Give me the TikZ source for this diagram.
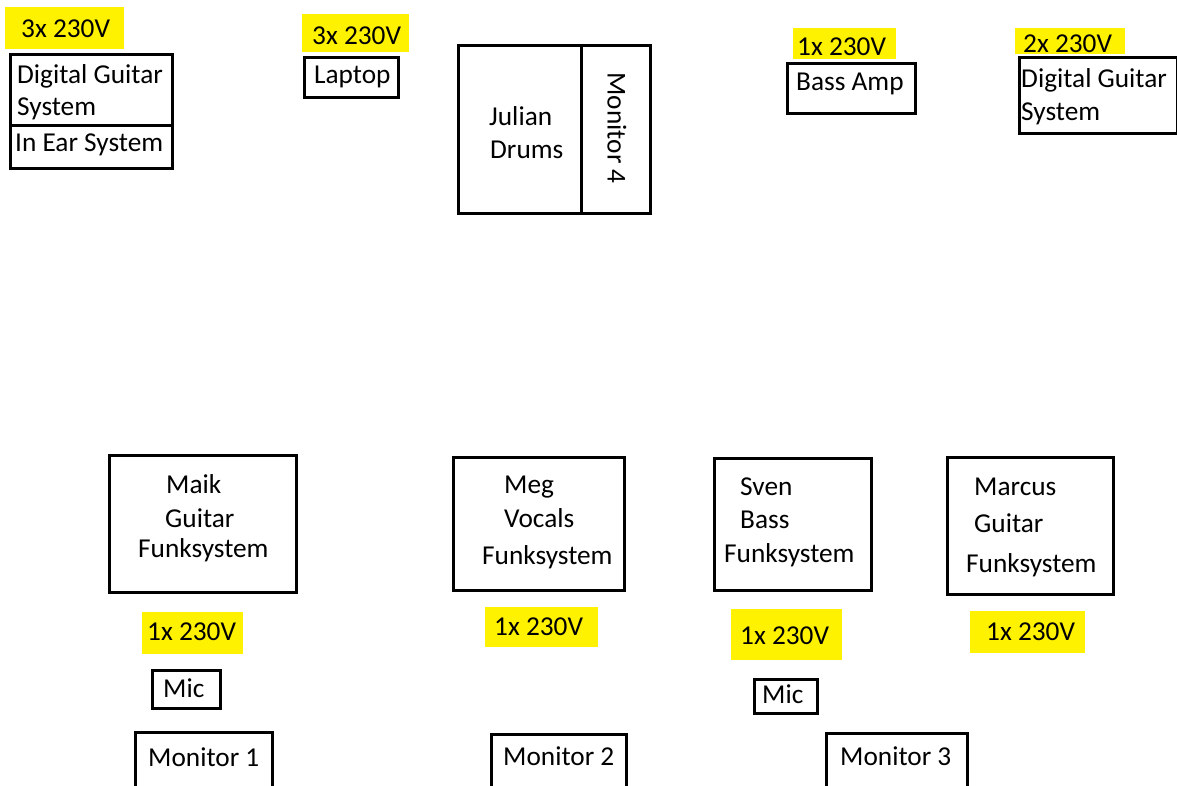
\documentclass[tikz,border=0pt]{standalone}
\usepackage{fontspec}
\setmainfont{Carlito}
\definecolor{hl}{RGB}{255,242,0}
\begin{document}
\begin{tikzpicture}[x=1pt,y=-1pt,
  box/.style={draw=black,line width=2.6pt,inner sep=0pt,anchor=north west},
  hlbox/.style={fill=hl,draw=none,inner sep=0pt,anchor=north west},
  txt/.style={inner sep=0pt,anchor=base west,font=\fontsize{27.3}{32}\selectfont}]
\useasboundingbox[fill=white] (0,0) rectangle (1177,785);
% yellow highlights
\node[hlbox,minimum width=119pt,minimum height=42pt] (h1) at (5,7) {};
\node[hlbox,minimum width=107pt,minimum height=38pt] (h2) at (302,14) {};
\node[hlbox,minimum width=103pt,minimum height=31pt] (h3) at (793,28) {};
\node[hlbox,minimum width=110pt,minimum height=26pt] (h4) at (1015,28) {};
\node[hlbox,minimum width=101pt,minimum height=42pt] (h5) at (142,612) {};
\node[hlbox,minimum width=113pt,minimum height=40pt] (h6) at (485,607) {};
\node[hlbox,minimum width=111pt,minimum height=51pt] (h7) at (731,609) {};
\node[hlbox,minimum width=115pt,minimum height=42pt] (h8) at (970,611) {};
% boxes
\node[box,minimum width=162pt,minimum height=71pt] (dgs1) at (9,53) {};
\node[box,minimum width=162pt,minimum height=43pt] (ies) at (9,124) {};
\node[box,minimum width=94pt,minimum height=40pt] (laptop) at (303,56) {};
\node[box,minimum width=123pt,minimum height=168pt] (drums) at (457,44) {};
\node[box,minimum width=69pt,minimum height=168pt] (mon4) at (580,44) {};
\node[box,minimum width=128pt,minimum height=50pt] (bassamp) at (786,62) {};
\node[box,minimum width=158pt,minimum height=76pt] (dgs2) at (1018,56) {};
\node[box,minimum width=187pt,minimum height=137pt] (maik) at (108,454) {};
\node[box,minimum width=68pt,minimum height=38pt] (mic1) at (151,669) {};
\node[box,minimum width=137pt,minimum height=70pt] (mon1) at (134,731) {};
\node[box,minimum width=171pt,minimum height=133pt] (meg) at (452,456) {};
\node[box,minimum width=135pt,minimum height=68pt] (mon2) at (490,733) {};
\node[box,minimum width=157pt,minimum height=132pt] (sven) at (713,457) {};
\node[box,minimum width=63pt,minimum height=34pt] (mic2) at (753,678) {};
\node[box,minimum width=141pt,minimum height=69pt] (mon3) at (825,732) {};
\node[box,minimum width=166pt,minimum height=137pt] (marcus) at (946,456) {};
% texts top
\node[txt] (t1) at (21,37) {3x 230V};
\node[txt] (t2) at (17,83) {Digital Guitar};
\node[txt] (t3) at (17,115) {System};
\node[txt] (t4) at (15,151) {In Ear System};
\node[txt] (t5) at (312,44) {3x 230V};
\node[txt] (t6) at (314,83) {Laptop};
\node[txt] (t7) at (489,125) {Julian};
\node[txt] (t8) at (490,158) {Drums};
\node[inner sep=0pt,rotate=-90,font=\fontsize{27.3}{32}\selectfont] (t9) at (617,128) {Monitor 4};
\node[txt] (t10) at (797,55) {1x 230V};
\node[txt] (t11) at (796,90) {Bass Amp};
\node[txt] (t12) at (1023,52) {2x 230V};
\node[txt] (t13) at (1021,87) {Digital Guitar};
\node[txt] (t14) at (1021,120) {System};
% texts bottom
\node[txt] (b1) at (166,493) {Maik};
\node[txt] (b2) at (165,527) {Guitar};
\node[txt] (b3) at (138,557) {Funksystem};
\node[txt] (b4) at (147,640) {1x 230V};
\node[txt] (b5) at (163,697) {Mic};
\node[txt] (b6) at (148,766) {Monitor 1};
\node[txt] (b7) at (504,493) {Meg};
\node[txt] (b8) at (504,527) {Vocals};
\node[txt] (b9) at (482,564) {Funksystem};
\node[txt] (b10) at (494,635) {1x 230V};
\node[txt] (b11) at (503,765) {Monitor 2};
\node[txt] (b12) at (740,495) {Sven};
\node[txt] (b13) at (740,528) {Bass};
\node[txt] (b14) at (724,562) {Funksystem};
\node[txt] (b15) at (740,644) {1x 230V};
\node[txt] (b16) at (762,703) {Mic};
\node[txt] (b17) at (840,765) {Monitor 3};
\node[txt] (b18) at (974,495) {Marcus};
\node[txt] (b19) at (974,532) {Guitar};
\node[txt] (b20) at (966,572) {Funksystem};
\node[txt] (b21) at (986,640) {1x 230V};
\end{tikzpicture}
\end{document}
